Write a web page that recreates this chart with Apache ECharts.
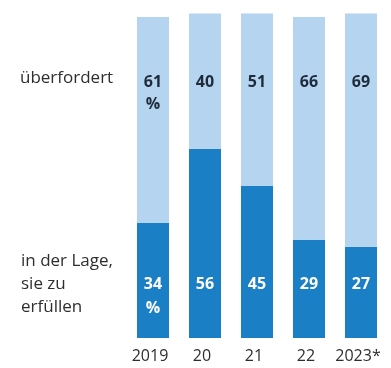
<!DOCTYPE html>
<html>
<head>
<meta charset="utf-8">
<script src="https://cdn.jsdelivr.net/npm/echarts@6/dist/echarts.min.js"></script>
<style>
html,body{margin:0;padding:0;background:#fff;}
#chart{width:391px;height:368px;}
</style>
</head>
<body>
<div id="chart"></div>
<script>
var categories = ['2019', '20', '21', '22', '2023*'];
var ableValues = [34, 56, 45, 29, 27];        // in der Lage, sie zu erfüllen
var overwhelmedValues = [61, 40, 51, 66, 69]; // überfordert
var overwhelmedName = 'überfordert';
var ableName = 'in der Lage,\nsie zu\nerfüllen';

var FONT = '"Open Sans", "Noto Sans", sans-serif';
var chart = echarts.init(document.getElementById('chart'), null, {renderer: 'canvas'});

chart.setOption({
  animation: false,
  backgroundColor: '#ffffff',
  grid: {left: 127, right: 4, top: 0, bottom: 30, containLabel: false},
  xAxis: {
    type: 'category',
    data: categories,
    axisLine: {show: false},
    axisTick: {show: false},
    axisLabel: {
      interval: 0,
      fontFamily: FONT, fontSize: 16, color: '#2e2e2e', margin: 10,
      padding: [0, 6, 0, 0]
    }
  },
  yAxis: {type: 'value', min: 0, max: 100, show: false},
  graphic: [
    {type: 'text', left: 20, top: 70,
     style: {text: overwhelmedName, font: '17px ' + FONT, fill: '#2e2e2e'}},
    {type: 'text', left: 21, top: 250,
     style: {text: ableName, font: '17px ' + FONT, fill: '#2e2e2e', lineHeight: 23}}
  ],
  series: [
    {
      name: 'in der Lage',
      type: 'bar',
      stack: 'total',
      barWidth: 32,
      data: ableValues,
      itemStyle: {color: '#1b7fc6'},
      label: {
        show: true,
        position: 'insideBottom',
        distance: 18,
        formatter: function (p) { return p.dataIndex === 0 ? p.value + '\n%' : p.value + '\n '; },
        fontFamily: FONT, fontSize: 16, fontWeight: 'bold', color: '#ffffff',
        lineHeight: 24
      }
    },
    {
      name: 'überfordert',
      type: 'bar',
      stack: 'total',
      barWidth: 32,
      data: overwhelmedValues,
      itemStyle: {color: '#b5d4ef'},
      label: {
        show: true,
        position: 'insideTop',
        formatter: function (p) { return p.dataIndex === 0 ? p.value + '\n%' : String(p.value); },
        fontFamily: FONT, fontSize: 16, fontWeight: 'bold', color: '#1e2b3a',
        lineHeight: 22
      },
      labelLayout: function (params) {
        return {x: params.rect.x + params.rect.width / 2, y: 71, align: 'center', verticalAlign: 'top'};
      }
    }
  ]
});
</script>
</body>
</html>
